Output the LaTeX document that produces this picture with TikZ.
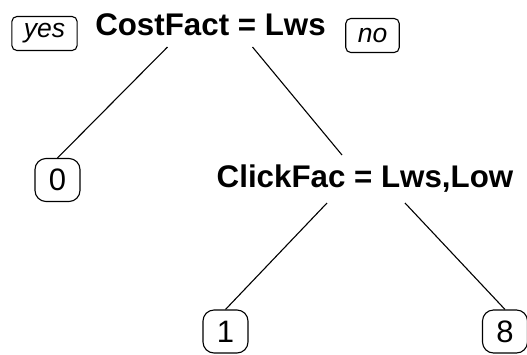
\documentclass[tikz,border=0pt]{standalone}
\usepackage{fontspec}
\setmainfont{Liberation Sans}
\usetikzlibrary{calc}
\tikzset{
  split/.style={font=\fontsize{31.3}{37}\selectfont\bfseries, inner sep=0pt},
  lab/.style={draw, line width=1.1pt, rounded corners=5pt, font=\fontsize{26.5}{30}\selectfont\itshape, inner xsep=12pt, inner ysep=0pt, minimum height=34pt},
  leaf/.style={draw, line width=1.1pt, rounded corners=11pt, font=\fontsize{31}{34}\selectfont, inner sep=0pt, minimum width=45pt, minimum height=43pt},
  edge/.style={line width=1.1pt}
}
\begin{document}
\begin{tikzpicture}[x=1pt,y=-1pt]
\useasboundingbox (0,0) rectangle (527,354);
\node[split, anchor=base] (root) at (210.5,35) {CostFact = Lws};
\node[lab] (yes) at (44.5,33.5) {yes};
\node[lab] (no) at (372.5,35.5) {no};
\node[split, anchor=base] (click) at (365,187) {ClickFac = Lws,Low};
\node[leaf] (l0) at (57.5,180) {0};
\node[leaf] (l1) at (225.5,331.5) {1};
\node[leaf] (l8) at (505,331.5) {8};
\coordinate (rootL) at ($(root.base)+(-43,12)$);
\coordinate (rootR) at ($(root.base)+(42,12)$);
\coordinate (clickIn) at ($(click.base)+(-23,-32)$);
\coordinate (clickL) at ($(click.base)+(-38,16)$);
\coordinate (clickR) at ($(click.base)+(40,16)$);
\draw[edge] (rootL) -- (l0.north);
\draw[edge] (rootR) -- (clickIn);
\draw[edge] (clickL) -- (l1.north);
\draw[edge] (clickR) -- (l8.north);
\end{tikzpicture}
\end{document}
